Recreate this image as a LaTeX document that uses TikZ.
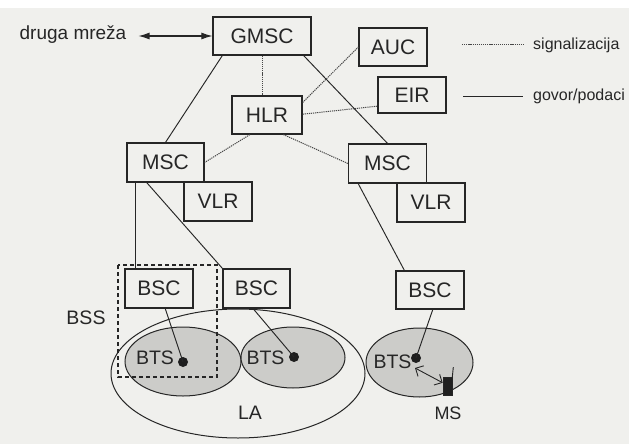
\documentclass[tikz,border=0pt]{standalone}
\usepackage{fontspec}
\setmainfont{Liberation Sans}
\usetikzlibrary{shapes.geometric,calc,arrows.meta}
\definecolor{bg}{RGB}{240,240,237}
\definecolor{ink}{RGB}{38,38,38}
\definecolor{shade}{RGB}{204,204,201}
\begin{document}
\begin{tikzpicture}[x=1pt,y=-1pt,
  box/.style={draw=ink, line width=1.2pt, fill=bg, inner sep=0pt, text=ink,
              font=\fontsize{21}{24}\selectfont},
  sig/.style={draw=ink!85, line width=1pt, dash pattern=on 1.2pt off 0.9pt},
  voice/.style={draw=ink, line width=0.95pt},
  lbl/.style={text=ink, inner sep=0pt},
  cell/.style={ellipse, draw=ink, line width=1pt, fill=shade, inner sep=0pt},
  la/.style={ellipse, draw=ink, line width=1pt, inner sep=0pt},
  btsdot/.style={circle, fill=ink!80!black, inner sep=0pt, minimum size=10pt},
]
\fill[bg] (0,0) rectangle (629,444);
\fill[white] (0,0) rectangle (629,8);
\useasboundingbox (0,0) rectangle (629,444);

% location area and cells
\node[la, minimum width=254pt, minimum height=129pt] (laell) at (238,373.5) {};
\node[cell, minimum width=116pt, minimum height=69pt] (cellL) at (183,361.5) {};
\node[cell, minimum width=104pt, minimum height=61pt] (cellM) at (293,357.5) {};
\node[cell, minimum width=107pt, minimum height=69pt] (cellR) at (419.5,362.5) {};

% boxes
\node[box, minimum width=98pt, minimum height=38pt] (gmsc) at (262,36) {GMSC};
\node[box, minimum width=70pt, minimum height=38pt] (hlr) at (267,115) {HLR};
\node[box, minimum width=68pt, minimum height=38pt] (auc) at (393,47) {AUC};
\node[box, minimum width=68pt, minimum height=36pt] (eir) at (412,95) {EIR};
\node[box, minimum width=77pt, minimum height=39pt] (mscL) at (165.5,162.5) {MSC};
\node[box, minimum width=78pt, minimum height=39pt] (mscR) at (387.5,163.5) {MSC};
\node[box, minimum width=68pt, minimum height=39pt] (bscL) at (159,288.5) {BSC};
\node[box, minimum width=67pt, minimum height=39pt] (bscM) at (256.5,288.5) {BSC};
\node[box, minimum width=68pt, minimum height=38pt] (bscR) at (430,290) {BSC};

% BTS dots and labels
\node[btsdot] (dotL) at (183,362) {};
\node[btsdot] (dotM) at (294,357) {};
\node[btsdot] (dotR) at (416,358) {};
\node[lbl, font=\fontsize{19.5}{22}\selectfont] (btsL) at (155,358) {BTS};
\node[lbl, font=\fontsize{19.5}{22}\selectfont] (btsM) at (265.5,358) {BTS};
\node[lbl, font=\fontsize{19.5}{22}\selectfont] (btsR) at (392.5,362) {BTS};

% connectors
\draw[voice] ($(gmsc.south west)!0.1!(gmsc.south east)$) -- (mscL.north);
\draw[voice] ($(gmsc.south west)!0.92!(gmsc.south east)$) -- (mscR.north);
\draw[sig] (gmsc.south) -- (gmsc.south |- hlr.north);
\draw[sig] ($(hlr.north east)!0.18!(hlr.south east)$) -- (auc.west);
\draw[sig] ($(hlr.north east)!0.48!(hlr.south east)$) -- ($(eir.north west)!0.8!(eir.south west)$);
\draw[sig] ($(hlr.south west)!0.26!(hlr.south east)$) -- (mscL.east);
\draw[sig] ($(hlr.south west)!0.73!(hlr.south east)$) -- (mscR.west);
\coordinate (mL1) at ($(mscL.south west)!0.12!(mscL.south east)$);
\draw[voice] (mL1) -- (mL1 |- bscL.north);
\draw[voice] ($(mscL.south west)!0.26!(mscL.south east)$) -- (bscM.north west);
\draw[voice] ($(mscR.south west)!0.13!(mscR.south east)$) -- ($(bscR.north west)!0.13!(bscR.north east)$);
\draw[voice] ($(bscL.south west)!0.59!(bscL.south east)$) -- (dotL.center);
\draw[voice] ($(bscM.south west)!0.45!(bscM.south east)$) -- (dotM.center);
\draw[voice] ($(bscR.south west)!0.54!(bscR.south east)$) -- (dotR.center);

% VLR boxes (drawn over the MSC lines)
\node[box, minimum width=68pt, minimum height=39pt] (vlrL) at (218,201.5) {VLR};
\node[box, minimum width=68pt, minimum height=39pt] (vlrR) at (431,202.5) {VLR};

% BSS dashed frame
\draw[ink, line width=1.1pt, dash pattern=on 4pt off 3pt] (118,265) rectangle (217,377);
\node[lbl, font=\fontsize{19.5}{22}\selectfont] (bss) at (86,318) {BSS};
\node[lbl, font=\fontsize{19.5}{22}\selectfont] (latext) at (250,413) {LA};

% mobile station
\node[draw=ink, fill=ink!85!black, line width=0.6pt, minimum width=9pt, minimum height=18pt, inner sep=0pt] (ms) at (447.5,386.5) {};
\draw[ink, line width=0.9pt] (ms.north east) -- ++(1,-10);
\node[lbl, font=\fontsize{18}{20}\selectfont] (mstext) at (448,413) {MS};
\draw[ink, line width=0.9pt, {Straight Barb[length=6pt]}-{Straight Barb[length=6pt]}]
  ($(dotR.center)+(-1,10)$) -- ($(ms.north west)!0.3!(ms.south west)$);

% other network
\node[lbl, font=\fontsize{19}{22}\selectfont] (druga) at (73,35) {druga mreža};
\draw[ink, line width=1.1pt, {Latex[length=11pt,width=7pt]}-{Latex[length=11pt,width=7pt]}]
  ($(druga.east)+(12,1)$) -- (gmsc.west);

% legend
\node[lbl, anchor=west, font=\fontsize{16}{19}\selectfont] (legsig) at (533,45) {signalizacija};
\node[lbl, anchor=west, font=\fontsize{16}{19}\selectfont] (legvoice) at (533,96) {govor/podaci};
\coordinate (ls) at (462,45);
\coordinate (lv) at (463,96);
\draw[sig] (ls) -- ($(legsig.west)+(-10,0)$);
\draw[voice] (lv) -- ($(legvoice.west)+(-10,0)$);
\end{tikzpicture}
\end{document}
